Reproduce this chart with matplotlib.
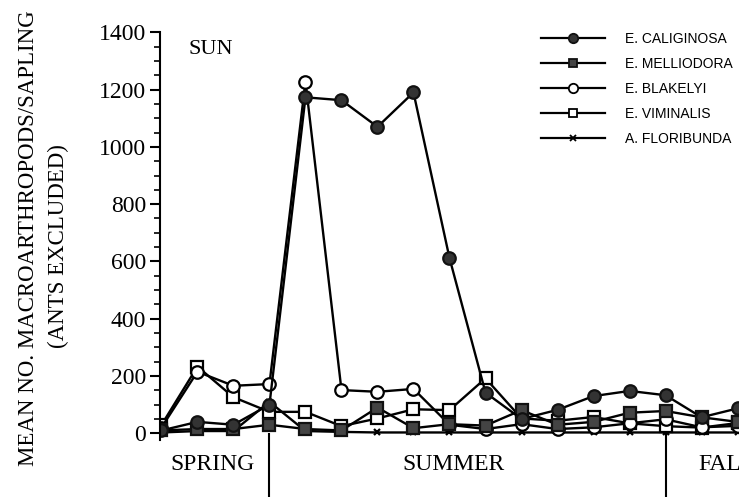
import matplotlib
matplotlib.use("Agg")
import matplotlib.pyplot as plt
from matplotlib.lines import Line2D

# sampling dates (index along the season axis)
dates = list(range(17))

caliginosa = [10, 40, 30, 100, 1173, 1163, 1070, 1190, 612, 142, 50, 82, 130, 148, 133, 56, 87]
melliodora = [10, 15, 15, 30, 15, 10, 90, 18, 32, 27, 81, 30, 40, 72, 78, 56, 40]
blakelyi = [20, 215, 166, 172, 1228, 151, 145, 155, 30, 15, 32, 15, 21, 35, 49, 21, 26]
viminalis = [29, 233, 126, 75, 75, 25, 52, 84, 81, 192, 52, 44, 57, 35, 25, 20, 36]
floribunda = [3, 8, 8, 110, 8, 5, 3, 3, 3, 3, 3, 3, 3, 3, 3, 3, 3]

series_names = ["E. CALIGINOSA", "E. MELLIODORA", "E. BLAKELYI", "E. VIMINALIS", "A. FLORIBUNDA"]
seasons = ["SPRING", "SUMMER", "FALL"]
season_pos = [1.43, 8.1, 14.9]
season_breaks = [3, 14]

plt.rcParams['font.family'] = 'Liberation Serif'

fig = plt.figure(figsize=(7.39, 4.97), dpi=100)
ax = fig.add_axes([0.2165, 0.1137, 0.7835, 0.8213])

styles = [
    dict(marker='o', mfc='#333333', mec='#111111', ms=9),
    dict(marker='s', mfc='#444444', mec='#111111', ms=8),
    dict(marker='o', mfc='white', mec='black', ms=9),
    dict(marker='s', mfc='white', mec='black', ms=8.5),
    dict(marker='x', mfc='black', mec='black', ms=5),
]
data = [caliginosa, melliodora, blakelyi, viminalis, floribunda]
# draw in reverse so the filled symbols end up on top like the original
for vals, st, name in reversed(list(zip(data, styles, series_names))):
    ax.plot(dates, vals, color='black', lw=1.7, mew=1.6, label=name, **st)

ax.set_xlim(-0.04, 16.04)
ax.set_ylim(-25, 1400)
ax.set_yticks(range(0, 1401, 200))
ax.set_yticks(range(0, 1401, 50), minor=True)
ax.tick_params(axis='y', which='major', length=7, width=1.5, labelsize=17, pad=3)
ax.tick_params(axis='y', which='minor', length=4, width=1.2)
ax.set_xticks([])
for s in ['top', 'right', 'bottom']:
    ax.spines[s].set_visible(False)
ax.spines['left'].set_linewidth(1.5)

# season separators hanging below the axis
ax.vlines(season_breaks, -230, 0, color='black', lw=1.5, clip_on=False)
for name, xpos in zip(seasons, season_pos):
    ha = 'left' if name == 'FALL' else 'center'
    ax.text(xpos, -108, name, fontsize=17, ha=ha, va='center', clip_on=False)

ax.text(0.75, 1340, "SUN", fontsize=16, va='center')

fig.text(0.038, 0.52, "MEAN NO. MACROARTHROPODS/SAPLING", rotation=90,
         fontsize=16.5, ha='center', va='center')
fig.text(0.079, 0.505, "(ANTS EXCLUDED)", rotation=90,
         fontsize=16.5, ha='center', va='center')

leg_styles = [dict(st, ms=st['ms'] * 0.75) for st in styles]
handles = [Line2D([0], [0], color='black', lw=1.6, mew=1.3, **st) for st in leg_styles]
ax.legend(handles, series_names, loc='upper left', bbox_to_anchor=(0.658, 1.0),
          frameon=False, handlelength=4.6, handletextpad=1.45, labelspacing=0.78,
          borderpad=0, borderaxespad=0,
          prop={'family': 'Liberation Sans', 'size': 10})

fig.savefig("out.png", dpi=100)
